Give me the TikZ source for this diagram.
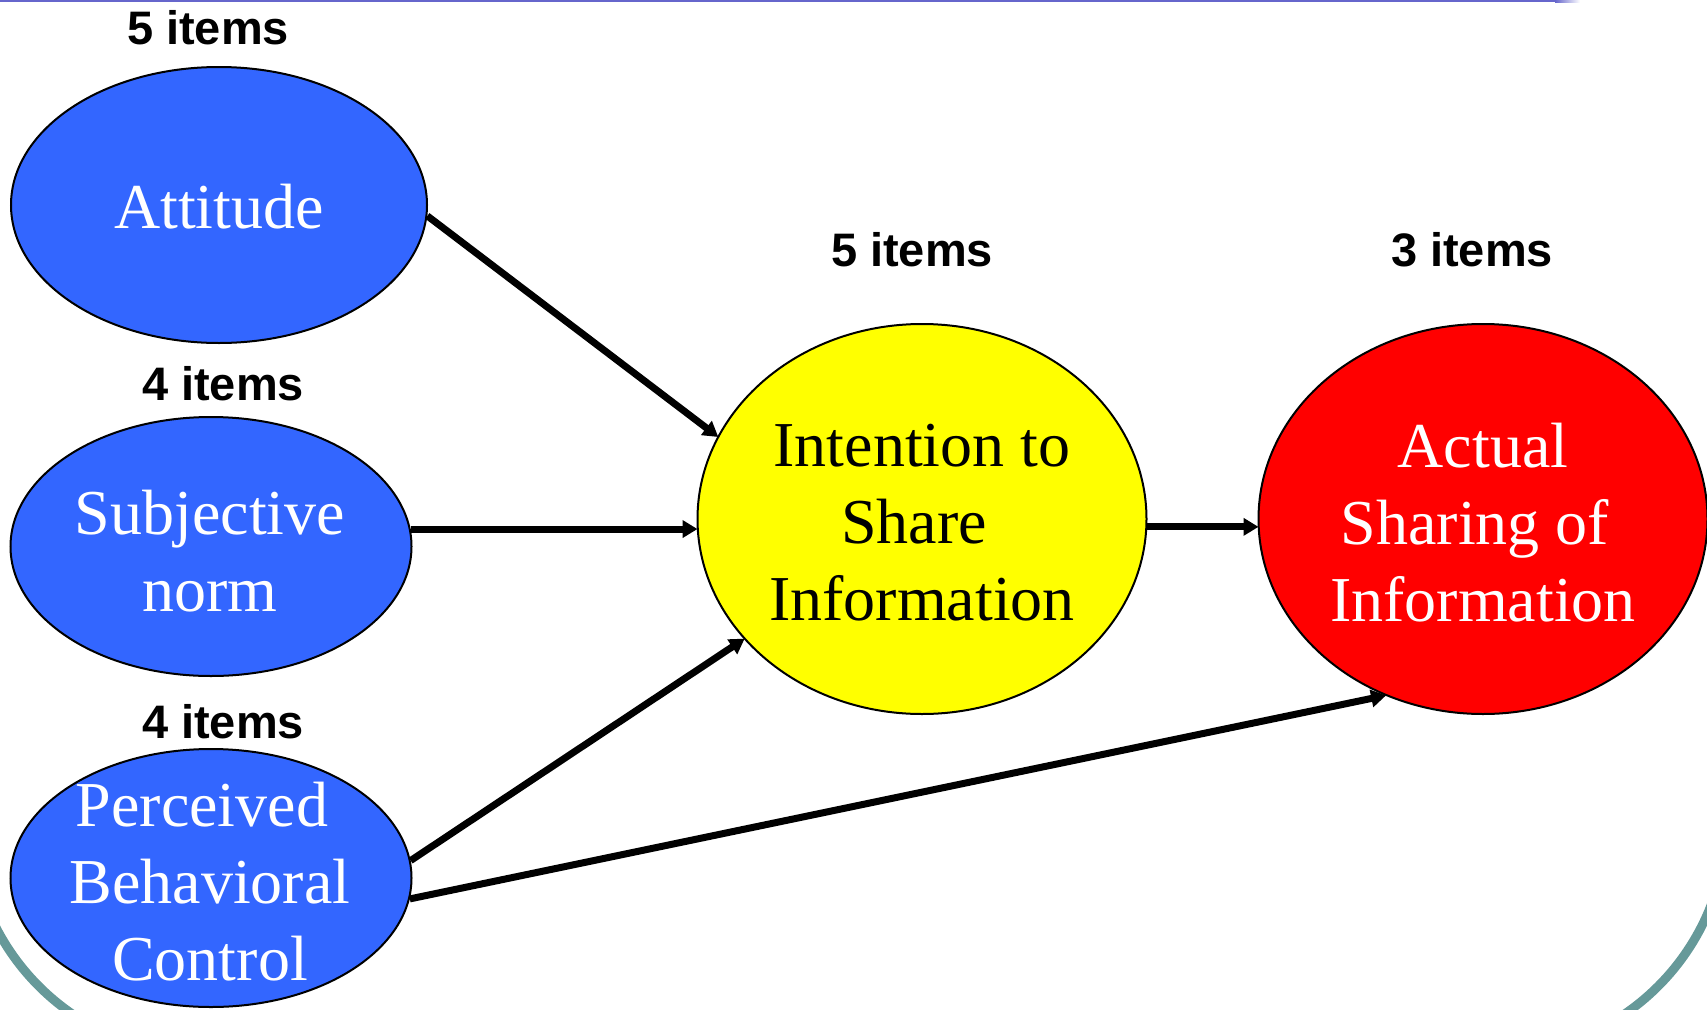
\documentclass[tikz,border=0pt]{standalone}
\usepackage{fontspec}
\setmainfont{Liberation Serif}
\newfontfamily\labelfont{Liberation Sans}
\usetikzlibrary{shapes.geometric,arrows.meta}

\definecolor{nodeblue}{RGB}{51,102,255}
\definecolor{nodeyellow}{RGB}{255,255,0}
\definecolor{nodered}{RGB}{255,0,0}
\definecolor{frameteal}{RGB}{102,153,153}
\definecolor{ruleviolet}{RGB}{102,102,204}

\tikzset{
  x=1pt, y=1pt,
  construct/.style={ellipse, draw=black, line width=2pt, inner sep=0pt},
  ctext/.style={align=center, inner sep=0pt,
    font=\fontsize{64}{77}\selectfont},
  items/.style={anchor=base, inner sep=0pt,
    font=\labelfont\bfseries\fontsize{47}{50}\selectfont},
  path arrow/.style={line width=7pt, draw=black,
    -{Triangle[length=15pt,width=17pt]}, shorten >=-1pt},
}
% centred line that keeps its trailing word space
\newcommand{\tsp}[1]{\mbox{#1\hspace{16pt}}}

\begin{document}
\begin{tikzpicture}
\useasboundingbox (0,0) rectangle (1707,-1009);
\clip (0,0) rectangle (1707,-1009);

% slide frame: rounded bottom corners and the top rule
\draw[frameteal, line width=9pt, rounded corners=235pt]
  (-30,200) rectangle (1727,-1055);
\draw[ruleviolet, line width=2.5pt] (0,-1) -- (1555,-1);
\shade[left color=ruleviolet, right color=white] (1555,0) rectangle (1580,-2.3);

% constructs
\node[construct, fill=nodeblue, minimum width=416pt, minimum height=276pt]
  (att) at (219,-205) {};
\node[construct, fill=nodeblue, minimum width=401pt, minimum height=259pt]
  (subj) at (211,-546.5) {};
\node[construct, fill=nodeblue, minimum width=401pt, minimum height=258pt]
  (pbc) at (211,-878) {};
\node[construct, fill=nodeyellow, minimum width=449pt, minimum height=390pt]
  (int) at (922,-519) {};
\node[construct, fill=nodered, minimum width=449pt, minimum height=390pt]
  (act) at (1483,-519) {};

% construct names
\node[ctext, text=white] (att-t) at (219,-207) {Attitude};
\node[ctext, text=white] (subj-t) at (210,-551) {Subjective\\norm};
\node[ctext, text=white] (pbc-t) at (210,-882) {\tsp{Perceived}\\Behavioral\\Control};
\node[ctext, text=black] (int-t) at (922,-523) {Intention to\\\tsp{Share}\\Information};
\node[ctext, text=white] (act-t) at (1483,-523) {Actual\\\tsp{Sharing of}\\Information};

% number of measurement items
\node[items] (att-n) at (208,-44) {5 items};
\node[items] (subj-n) at (223,-400) {4 items};
\node[items] (pbc-n) at (223,-738) {4 items};
\node[items] (int-n) at (912,-266) {5 items};
\node[items] (act-n) at (1472,-266) {3 items};

% hypothesised paths
\draw[path arrow] (att.-3) -- (int.158);
\draw[path arrow] (subj.5) -- (subj.5 -| int.west);
\draw[path arrow] (pbc.5) -- (int.214);
\draw[path arrow] (int.358) -- (int.358 -| act.west);
\draw[path arrow] (pbc.-6) -- (act.241);
\end{tikzpicture}
\end{document}
